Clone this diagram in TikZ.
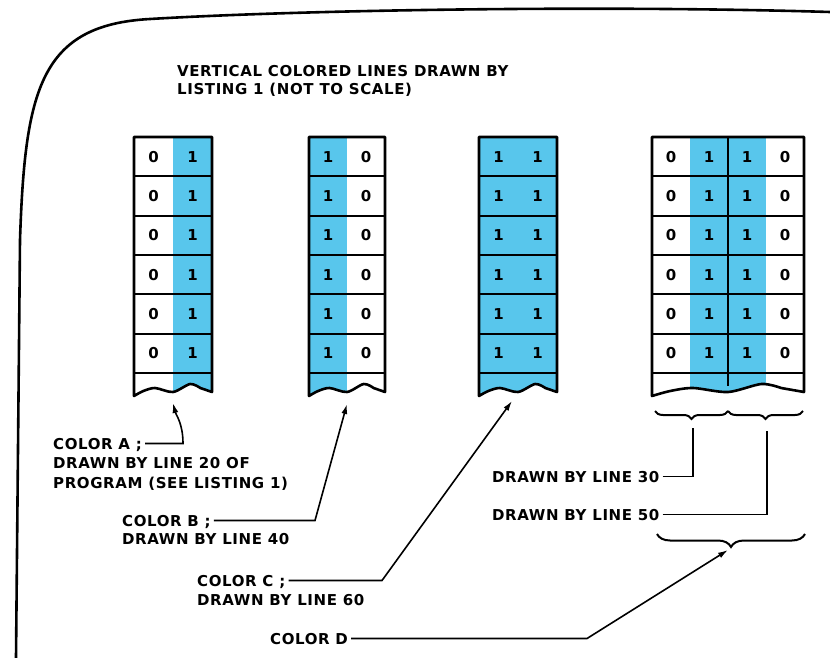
\documentclass[tikz,border=0pt]{standalone}
\usepackage{fontspec}
\setmainfont{DejaVu Sans}[LetterSpace=4]
\usepackage{tikz}
\usetikzlibrary{arrows.meta,decorations.pathreplacing}
\definecolor{bitblue}{RGB}{88,198,236}

\begin{document}
\begin{tikzpicture}[x=1pt, y=-1pt,
    every node/.style={font=\fontsize{15}{18}\selectfont\bfseries, inner sep=0pt},
    callout/.style={anchor=base west, text height=11pt, text depth=0pt, inner xsep=3pt},
    digit/.style={font=\fontsize{15}{15}\selectfont\bfseries},
    outline/.style={line width=2.6pt},
    rowline/.style={line width=2pt},
    lead/.style={line width=1.6pt},
    tip/.style={-{Latex[length=10pt,width=6pt]}},
    undbrace/.style={decorate, decoration={brace, mirror, amplitude=#1}, line width=2pt}]
    \useasboundingbox (0,0) rectangle (830,658);

    % page edge
    \draw[outline, line cap=round] (830,12) .. controls (600,5) and (300,10) .. (150,19)
        .. controls (40,25) and (25,90) .. (20,240) -- (16,658);

    \node[callout] (title1) at (174,77) {VERTICAL COLORED LINES DRAWN BY};
    \node[callout] (title2) at (174,95) {LISTING 1 (NOT TO SCALE)};

    % the four torn strips of bits
    \foreach \col/\xa/\xb/\n/\bits in {A/134/212/2/{0,1}, B/309/385/2/{1,0},
                                       C/479/557/2/{1,1}, D/652/804/4/{0,1,1,0}} {
        \pgfmathsetmacro\cw{(\xb-\xa)/\n}
        \begin{scope}
            \clip (\xa,137) -- (\xb,137) -- (\xb,392) -- plot[smooth] coordinates {
                ({\xa+0.85*(\xb-\xa)},388) ({\xa+0.72*(\xb-\xa)},384) ({\xa+0.5*(\xb-\xa)},392)
                ({\xa+0.27*(\xb-\xa)},388) ({\xa+0.12*(\xb-\xa)},391) (\xa,396)} -- cycle;
            \foreach \b [count=\k] in \bits {
                \ifnum\b=1 \fill[bitblue] ({\xa+(\k-1)*\cw},130) rectangle ({\xa+\k*\cw},400); \fi
            }
        \end{scope}
        \foreach \r in {1,...,6} {
            \draw[rowline] (\xa,{137+\r*39.3}) -- (\xb,{137+\r*39.3});
            \foreach \b [count=\k] in \bits {
                \node[digit] (\col-\r-\k) at ({\xa+(\k-0.5)*\cw},{137+(\r-0.5)*39.3}) {\b};
            }
        }
        \draw[outline, line join=round] (\xa,137) -- (\xb,137) -- (\xb,392) -- plot[smooth] coordinates {
            ({\xa+0.85*(\xb-\xa)},388) ({\xa+0.72*(\xb-\xa)},384) ({\xa+0.5*(\xb-\xa)},392)
            ({\xa+0.27*(\xb-\xa)},388) ({\xa+0.12*(\xb-\xa)},391) (\xa,396)} -- cycle;
    }
    \draw[rowline] (728,137) -- (728,386);

    % braces under strip D
    \draw[undbrace=8pt] (655,411) -- (728,411);
    \draw[undbrace=8pt] (728,411) -- (803,411);
    \draw[undbrace=13pt] (657,534) -- (805,534);

    % callouts
    \node[callout] (colorA) at (50,449) {COLOR A ;};
    \node[callout] (colorA2) at (50,468.5) {DRAWN BY LINE 20 OF};
    \node[callout] (colorA3) at (50,488) {PROGRAM (SEE LISTING 1)};
    \node[callout] (colorB) at (119,526) {COLOR B ;};
    \node[callout] (colorB2) at (119,544) {DRAWN BY LINE 40};
    \node[callout] (colorC) at (194,586) {COLOR C ;};
    \node[callout] (colorC2) at (194,605) {DRAWN BY LINE 60};
    \node[callout] (colorD) at (267,644) {COLOR D};
    \node[callout] (line30) at (489,482) {DRAWN BY LINE 30};
    \node[callout] (line50) at (489,520) {DRAWN BY LINE 50};

    \coordinate (kneeA) at (183,443);
    \coordinate (tipA) at (173,403);
    \coordinate (kneeB) at (315,0);
    \coordinate (tipB) at (347,404);
    \coordinate (kneeC) at (382,0);
    \coordinate (tipC) at (512,401);
    \coordinate (kneeD) at (587,0);
    \coordinate (tipD) at (728,550);
    \coordinate (end30) at (693,428);
    \coordinate (end50) at (767,431);

    \draw[lead, tip] (colorA.east) -- (colorA.east -| kneeA) .. controls +(0,-20) and +(3,12) .. (tipA);
    \draw[lead, tip] (colorB.east) -- (colorB.east -| kneeB) -- (tipB);
    \draw[lead, tip] (colorC.east) -- (colorC.east -| kneeC) -- (tipC);
    \draw[lead, tip] (colorD.east) -- (colorD.east -| kneeD) -- (tipD);
    \draw[lead] (line30.east) -| (end30);
    \draw[lead] (line50.east) -| (end50);
\end{tikzpicture}
\end{document}
